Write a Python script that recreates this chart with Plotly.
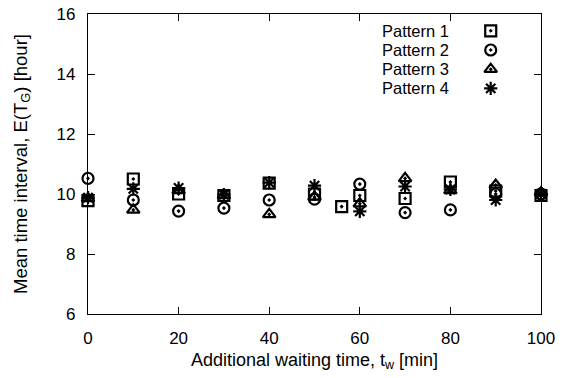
import plotly.graph_objects as go

# Data
x_p1 = [0, 10, 20, 30, 40, 50, 56, 60, 70, 80, 90, 100]
y_p1 = [9.78, 10.5, 10.0, 9.95, 10.36, 10.0, 9.58, 9.95, 9.85, 10.4, 10.1, 9.95]
x_p2 = [0, 10, 20, 30, 40, 50, 60, 70, 80, 90, 100]
y_p2 = [10.52, 9.8, 9.43, 9.53, 9.8, 9.83, 10.33, 9.38, 9.47, 10.0, 10.0]
x_p3 = [0, 10, 20, 30, 40, 50, 60, 70, 80, 90, 100]
y_p3 = [9.85, 9.47, 10.12, 9.95, 9.32, 9.9, 9.68, 10.52, 10.12, 10.3, 10.05]
x_p4 = [0, 10, 20, 30, 40, 50, 60, 70, 80, 90, 100]
y_p4 = [9.88, 10.17, 10.2, 9.98, 10.38, 10.28, 9.42, 10.25, 10.15, 9.8, 10.0]

names = ["Pattern 1", "Pattern 2", "Pattern 3", "Pattern 4"]
symbols = ["square-open-dot", "circle-open-dot", "triangle-up-open-dot", "asterisk-open"]
xs = [x_p1, x_p2, x_p3, x_p4]
ys = [y_p1, y_p2, y_p3, y_p4]

FONT = "Liberation Sans, Arial, sans-serif"

fig = go.Figure()
for nm, sym, xv, yv in zip(names, symbols, xs, ys):
    fig.add_trace(go.Scatter(
        x=xv, y=yv, mode="markers", name=nm, showlegend=False,
        marker=dict(symbol=sym, size=11, color="black",
                    line=dict(color="black", width=2.2)),
        cliponaxis=False,
    ))

# Legend keys (gnuplot style: text left, symbol right) on an overlay axis
for i, (nm, sym) in enumerate(zip(names, symbols)):
    yk = 0.944 - 0.064 * i
    fig.add_trace(go.Scatter(
        x=[0.889], y=[yk], mode="markers", showlegend=False,
        xaxis="x2", yaxis="y2", hoverinfo="skip",
        marker=dict(symbol=sym, size=11, color="black",
                    line=dict(color="black", width=2.2)),
    ))
    fig.add_annotation(
        x=0.6446, y=yk, xref="x2", yref="y2", text=nm,
        showarrow=False, xanchor="left", yanchor="middle",
        font=dict(family=FONT, size=16.5, color="black"),
    )

axis_common = dict(
    showline=True, linecolor="black", linewidth=1.3, mirror="ticks",
    ticks="inside", ticklen=7, tickwidth=1.1, tickcolor="black",
    showgrid=False, zeroline=False, automargin=False,
    tickfont=dict(family=FONT, size=17, color="black"),
)

fig.update_layout(
    width=562, height=378,
    margin=dict(l=88, r=21, t=14, b=64),
    paper_bgcolor="white", plot_bgcolor="white",
    showlegend=False,
    xaxis=dict(range=[0, 100], tick0=0, dtick=20,
               title=dict(text="Additional waiting time, t<sub>w</sub> [min]",
                          font=dict(family=FONT, size=18, color="black"), standoff=6),
               ticklabelstandoff=8, **axis_common),
    yaxis=dict(range=[6, 16], tick0=6, dtick=2,
               title=dict(text="Mean time interval, E(T<sub>G</sub>) [hour]",
                          font=dict(family=FONT, size=18.5, color="black"), standoff=24),
               ticklabelstandoff=8, **axis_common),
    xaxis2=dict(range=[0, 1], overlaying="x", visible=False, fixedrange=True),
    yaxis2=dict(range=[0, 1], overlaying="y", visible=False, fixedrange=True),
)

fig.write_html("out.html")
